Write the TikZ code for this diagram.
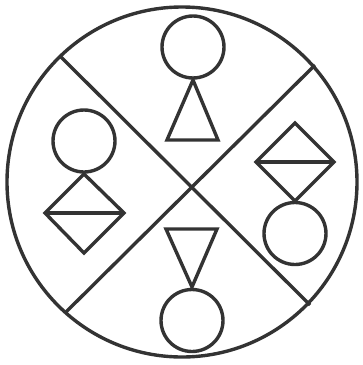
\documentclass[tikz,border=0pt]{standalone}
\usepackage{xcolor}
\usepackage{tikz}
\usetikzlibrary{positioning}
\definecolor{cortraco}{RGB}{51,51,51}

\begin{document}
\begin{tikzpicture}[
  x=1pt, y=-1pt,
  traco/.style={draw=cortraco, line width=3.4pt, line join=miter},
  cabeca/.style={circle, traco, minimum size=62pt, inner sep=0pt},
  borda/.style={circle, traco, minimum size=350pt, inner sep=0pt}
]
  \useasboundingbox (0,0) rectangle (363,365);

  % disco externo e divisorias
  \node[borda] (disco) at (182,182) {};
  \coordinate (d1a) at (61,57);
  \coordinate (d1b) at (310,305);
  \coordinate (d2a) at (315,65);
  \coordinate (d2b) at (65,313);
  \draw[traco] (d1a) -- (d1b);
  \draw[traco] (d2a) -- (d2b);

  % topo: circulo e triangulo
  \node[cabeca] (cTopo) at (193,47) {};
  \coordinate (tTopo) at (193,80);
  \draw[traco] (tTopo) -- (218,140) -- (167,140) -- cycle;

  % esquerda: circulo e losango
  \node[cabeca] (cEsq) at (84,141) {};
  \coordinate (lEsqN) at (84,174);
  \coordinate (lEsqO) at (45,213);
  \coordinate (lEsqL) at (124,213);
  \coordinate (lEsqS) at (84,253);
  \draw[traco] (lEsqN) -- (lEsqL) -- (lEsqS) -- (lEsqO) -- cycle;
  \draw[traco] (lEsqO) -- (lEsqL);

  % direita: losango e circulo
  \coordinate (lDirN) at (295,123);
  \coordinate (lDirO) at (256,162);
  \coordinate (lDirL) at (334,162);
  \coordinate (lDirS) at (295,201);
  \draw[traco] (lDirN) -- (lDirL) -- (lDirS) -- (lDirO) -- cycle;
  \draw[traco] (lDirO) -- (lDirL);
  \node[cabeca] (cDir) at (295,233.5) {};

  % baixo: triangulo invertido e circulo
  \coordinate (tBaixo) at (192,287);
  \draw[traco] (166,229) -- (217,229) -- (tBaixo) -- cycle;
  \node[cabeca] (cBaixo) at (192,320.5) {};
\end{tikzpicture}
\end{document}
